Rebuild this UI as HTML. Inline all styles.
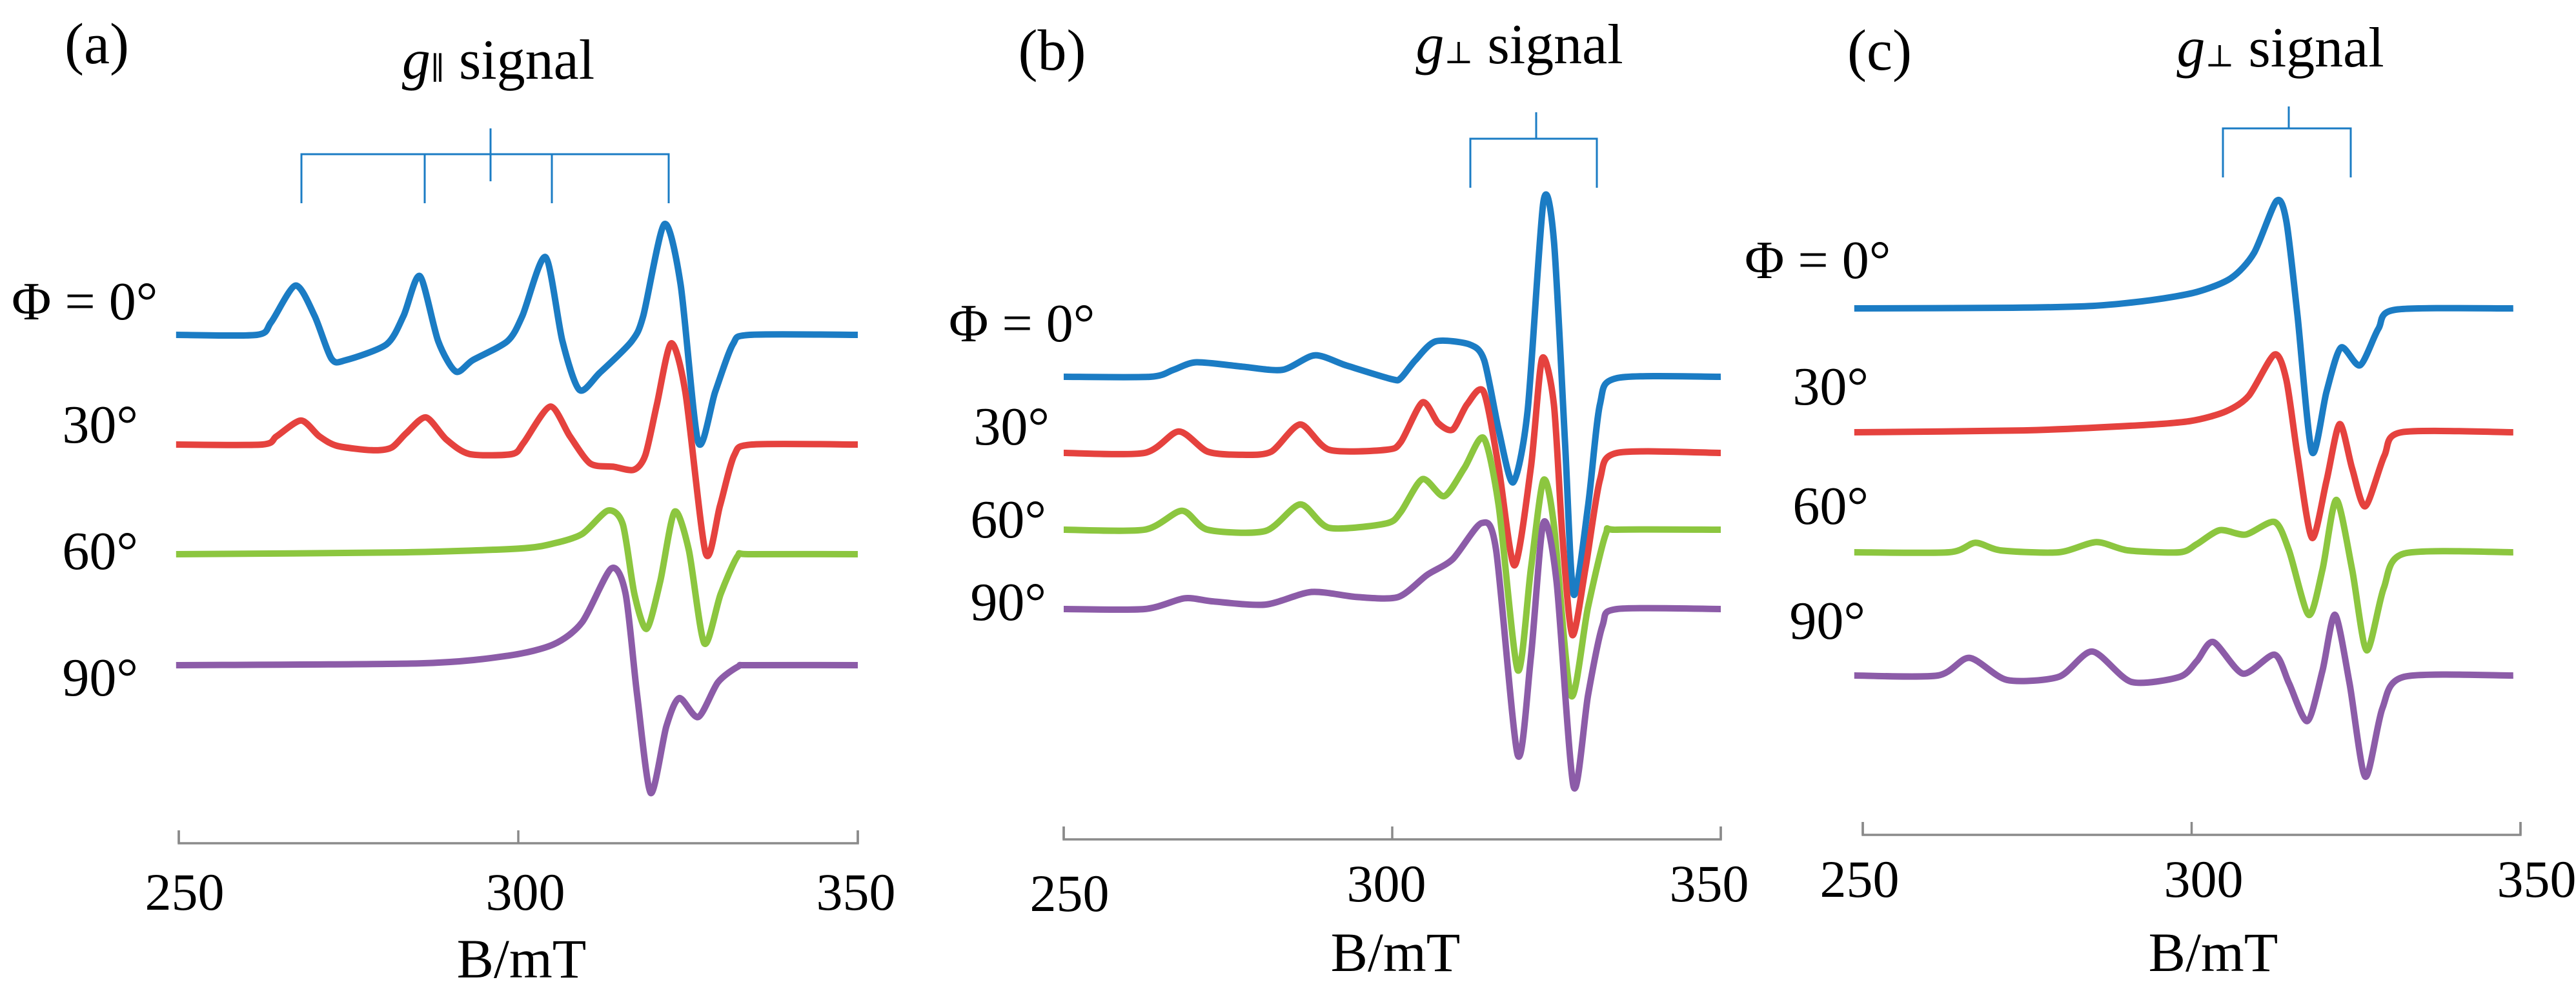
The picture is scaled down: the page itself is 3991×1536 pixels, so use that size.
<!DOCTYPE html>
<html><head><meta charset="utf-8"><style>
html,body{margin:0;padding:0;background:#fff;}
svg{display:block;}
svg text{font-family:"Liberation Serif","DejaVu Serif",serif;}
</style></head><body>
<svg id="chart" width="3991" height="1536" viewBox="0 0 3991 1536" xmlns="http://www.w3.org/2000/svg" font-family="Liberation Serif, serif">
<rect width="3991" height="1536" fill="#fff"/>
<g id="pa"></g>
<g id="pb"></g>
<g id="pc"></g>
</svg>
<script>
const xTicks = [250, 300, 350];
const angleLabels = ["Φ  = 0°", "30°", "60°", "90°"];
const seriesColors = ["#1b7cc4", "#e5423e", "#8cc63f", "#8c5ca8"];
const seriesNames = ["phi-0", "phi-30", "phi-60", "phi-90"];

// Panel (a) fields (mT) and intensities (arb.)
const aBlueB = [249.6,261.5,263.6,267.2,270.0,272.5,274.6,280.6,283.1,285.5,288.2,290.8,293.3,298.4,300.6,304.0,306.5,309.0,312.0,316.7,318.4,321.5,323.9,326.5,329.0,331.6,334.1,350];
const aBlueI = [0,0,20,78,30,-38,-40,-15,30,93,-10,-58,-40,-10,30,123,-10,-87,-60,-10,30,175,80,-170,-90,-15,0,0];
const aRedB = [249.6,262.3,264.4,268.0,270.7,273.3,278.4,281.3,283.5,286.4,289.4,292.8,299.1,300.8,304.7,307.6,310.6,314.0,317.0,318.7,320.4,322.5,324.6,327.6,329.7,331.8,334.4,350];
const aRedI = [0,0,13,38,13,-2,-9,-5,18,43,8,-15,-15,3,60,13,-30,-35,-40,-17,63,160,83,-172,-97,-17,0,0];
const aGreenB = [249.6,283.1,300.1,305.2,309.4,313.2,315.4,317.1,318.9,320.9,323.0,325.1,327.4,329.8,332.3,334.1,350];
const aGreenI = [0,3,9,17,32,69,47,-63,-118,-43,67,7,-141,-63,-3,0,0];
const aPurpleB = [249.6,285.7,298.5,305.2,309.4,313.7,315.8,317.5,319.5,321.8,323.7,326.5,329.4,332.4,334.1,350];
const aPurpleI = [0,3,15,33,68,153,113,-47,-202,-97,-52,-82,-27,-2,0,0];

// Panel (b)
const bBlueB = [250,263.2,266.7,270.2,277.2,283.3,288.2,293.0,300.0,301.3,303.5,306.6,311.8,314.0,316.2,318.4,320.6,323.0,324.6,326.3,327.6,329.8,331.6,334.2,350];
const bBlueI = [0,0,11,23,16,11,34,18,-4,-2,26,56,51,26,-84,-167,-54,276,216,-104,-344,-204,-44,-2,0];
const bRedB = [250,262.3,267.5,271.9,277.2,281.6,286.0,290.4,299.1,301.3,304.6,307.0,309.2,311.4,313.9,316.2,318.6,321.1,322.8,324.6,325.9,327.4,329.4,331.6,334.2,350];
const bRedI = [0,0,34,2,-3,2,45,5,5,17,80,47,37,77,97,-23,-178,-23,149,77,-133,-288,-183,-43,0,0];
const bGreenB = [250,262.3,268.0,271.9,280.7,286.0,290.4,299.1,301.3,304.6,307.9,311.0,313.9,316.2,319.1,321.1,323.0,324.6,327.2,329.8,332.5,334.2,350];
const bGreenI = [0,0,30,0,-2,40,3,10,28,80,53,98,145,38,-222,-62,78,8,-262,-122,-7,0,0];
const bPurpleB = [250,262.3,268.4,272.8,280.7,287.7,294.7,300.9,305.3,309.2,313.6,315.8,319.1,321.1,323.0,325.0,327.6,329.8,332.0,334.2,350];
const bPurpleI = [0,0,17,12,7,27,19,19,54,79,136,94,-231,-76,136,44,-281,-136,-26,0,0];

// Panel (c)
const cBlueB = [248.7,272.8,285.0,293.8,300.8,306.0,309.5,312.9,314.4,316.1,318.3,320.5,322.7,325.6,328.4,331.0,348.9];
const cBlueI = [0,1,4,13,26,48,88,170,138,-12,-227,-132,-62,-90,-32,-2,0];
const cRedB = [248.7,274.5,292.0,299.9,305.2,308.7,312.6,314.4,316.1,318.3,320.5,322.5,324.4,326.4,329.3,331.9,348.9];
const cRedI = [0,3,11,18,33,58,123,83,-37,-167,-77,13,-57,-117,-37,0,0];
const cGreenB = [248.7,263.1,267.1,271.0,279.8,285.5,290.3,298.2,300.8,304.3,308.2,312.6,314.8,317.8,319.9,322.0,324.4,326.6,329.2,332.3,348.9];
const cGreenI = [0,0,15,3,0,16,3,0,13,35,28,48,3,-99,-27,83,-27,-155,-57,-2,0];
const cPurpleB = [248.7,261.4,266.2,271.9,279.8,284.9,290.8,298.2,300.8,303.3,307.8,312.6,314.8,317.6,319.9,321.8,324.0,326.4,329.0,332.3,348.9];
const cPurpleI = [0,0,28,-7,-2,38,-10,-2,23,53,3,33,-12,-72,8,96,-12,-160,-52,-2,0];

const NS = "http://www.w3.org/2000/svg";
const SERIF = '"Liberation Serif", "DejaVu Serif", serif';
function mk(parent, tag, attrs) {
  const e = document.createElementNS(NS, tag);
  for (const k in attrs) e.setAttribute(k, attrs[k]);
  parent.appendChild(e);
  return e;
}
function smoothPath(pts) {
  let d = "M" + pts[0][0].toFixed(1) + "," + pts[0][1].toFixed(1);
  for (let i = 0; i < pts.length - 1; i++) {
    const p0 = pts[Math.max(0, i - 1)], p1 = pts[i], p2 = pts[i + 1], p3 = pts[Math.min(pts.length - 1, i + 2)];
    const t = 0.13;
    const c1x = p1[0] + (p2[0] - p0[0]) * t, c1y = p1[1] + (p2[1] - p0[1]) * t;
    const c2x = p2[0] - (p3[0] - p1[0]) * t, c2y = p2[1] - (p3[1] - p1[1]) * t;
    d += " C" + c1x.toFixed(1) + "," + c1y.toFixed(1) + " " + c2x.toFixed(1) + "," + c2y.toFixed(1) + " " + p2[0].toFixed(1) + "," + p2[1].toFixed(1);
  }
  return d;
}

const panels = [
  { id: "pa", letter: "(a)", x0: 277, x1: 1329, axisY: 1307, baselines: [519, 689, 859, 1031],
    series: [[aBlueB, aBlueI], [aRedB, aRedI], [aGreenB, aGreenI], [aPurpleB, aPurpleI]],
    letterPos: [150, 98], sig: "∥", sigPos: [772, 122],
    brY: 239, brBot: 315, brXs: [467, 658, 855, 1036], brC: 760, brTop: 199,
    labPos: [[18, 495, "start"], [214, 686, "end"], [214, 882, "end"], [214, 1078, "end"]],
    tickLab: [[286, 1410], [814, 1410], [1326, 1410]], bmt: [808, 1515] },
  { id: "pb", letter: "(b)", x0: 1648, x1: 2666, axisY: 1301, baselines: [584, 702, 821, 944],
    series: [[bBlueB, bBlueI], [bRedB, bRedI], [bGreenB, bGreenI], [bPurpleB, bPurpleI]],
    letterPos: [1630, 108], sig: "⊥", sigPos: [2354, 98],
    brY: 215, brBot: 291, brXs: [2278, 2474], brC: 2380, brTop: 174,
    labPos: [[1470, 529, "start"], [1626, 689, "end"], [1621, 833, "end"], [1621, 961, "end"]],
    tickLab: [[1657, 1412], [2148, 1397], [2648, 1397]], bmt: [2162, 1505] },
  { id: "pc", letter: "(c)", x0: 2886, x1: 3905, axisY: 1294, baselines: [478, 670, 856, 1047],
    series: [[cBlueB, cBlueI], [cRedB, cRedI], [cGreenB, cGreenI], [cPurpleB, cPurpleI]],
    letterPos: [2912, 108], sig: "⊥", sigPos: [3533, 103],
    brY: 199, brBot: 275, brXs: [3444, 3642], brC: 3546, brTop: 165,
    labPos: [[2703, 431, "start"], [2895, 627, "end"], [2895, 812, "end"], [2890, 990, "end"]],
    tickLab: [[2881, 1390], [3414, 1390], [3930, 1390]], bmt: [3429, 1505] }
];

panels.forEach(function (P) {
  const g = document.getElementById(P.id);
  const xScale = function (b) { return P.x0 + (b - 250) / 100 * (P.x1 - P.x0); };
  const yScale = function (k, v) { return P.baselines[k] - v * 0.98; };

  const axis = mk(g, "path", { d: "M" + P.x0 + "," + (P.axisY - 20) + " V" + P.axisY + " H" + P.x1 + " V" + (P.axisY - 20), fill: "none", stroke: "#8a8a8a", "stroke-width": 3.5 });
  
  
  xTicks.forEach(function (t, i) {
    const tk = mk(g, "line", { x1: xScale(t), x2: xScale(t), y1: P.axisY - 20, y2: P.axisY, stroke: "#8a8a8a", "stroke-width": 3.5 });
    
    
    const tl = mk(g, "text", { x: P.tickLab[i][0], y: P.tickLab[i][1], "font-size": 82, "text-anchor": "middle", fill: "#000", "font-family": SERIF });
    tl.textContent = String(t);
    
    
  });
  const xt = mk(g, "text", { x: P.bmt[0], y: P.bmt[1], "font-size": 86, "text-anchor": "middle", fill: "#000", "font-family": SERIF });
  xt.textContent = "B/mT";
  
  

  const lt = mk(g, "text", { x: P.letterPos[0], y: P.letterPos[1], "font-size": 90, "text-anchor": "middle", fill: "#000", "font-family": SERIF });
  lt.textContent = P.letter;
  
  

  const st = mk(g, "text", { x: P.sigPos[0], y: P.sigPos[1], "font-size": 88, "text-anchor": "middle", fill: "#000", "font-family": SERIF });
  const t1 = mk(st, "tspan", { "font-style": "italic" }); t1.textContent = "g";
  const t2 = mk(st, "tspan", { "font-size": 48 }); t2.textContent = P.sig;
  const t3 = mk(st, "tspan", {}); t3.textContent = " signal";
  
  

  let bd = "M" + P.brXs[0] + "," + P.brBot + " V" + P.brY + " H" + P.brXs[P.brXs.length - 1] + " V" + P.brBot;
  for (let i = 1; i < P.brXs.length - 1; i++) bd += " M" + P.brXs[i] + "," + P.brY + " V" + P.brBot;
  bd += " M" + P.brC + "," + P.brTop + " V" + (P.id === "pa" ? 281 : P.brY);
  const br = mk(g, "path", { d: bd, fill: "none", stroke: "#1b7cc4", "stroke-width": 3 });
  
  

  P.series.forEach(function (s, k) {
    const pts = s[0].map(function (b, i) { return [xScale(b), yScale(k, s[1][i])]; });
    const p = mk(g, "path", { d: smoothPath(pts), fill: "none", stroke: seriesColors[k], "stroke-width": 10, "stroke-linejoin": "round", "stroke-linecap": "butt" });
    
    
    const lp = P.labPos[k];
    const l = mk(g, "text", { x: lp[0], y: lp[1], "font-size": 84, "text-anchor": lp[2], fill: "#000", "font-family": SERIF });
    l.textContent = angleLabels[k];
    
    
  });
});
</script>
</body></html>
